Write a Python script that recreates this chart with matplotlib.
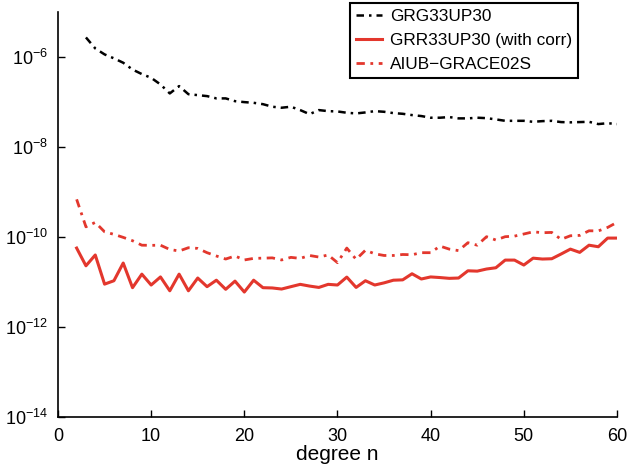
import numpy as np
import matplotlib
matplotlib.use("Agg")
import matplotlib.pyplot as plt
from matplotlib.ticker import FixedLocator, NullLocator, LogFormatterSciNotation

plt.rcParams['font.family'] = ['Liberation Sans', 'DejaVu Sans']
plt.rcParams['mathtext.fontset'] = 'custom'
plt.rcParams['mathtext.rm'] = 'Liberation Sans'
plt.rcParams['mathtext.it'] = 'Liberation Sans:italic'

# degree n
deg_grg = np.arange(3, 61)
deg = np.arange(2, 61)

grg33up30 = [2.74e-6, 1.56e-6, 1.15e-6, 9.4e-7, 7.5e-7, 5.3e-7, 4.2e-7, 3.47e-7,
             2.47e-7, 1.56e-7, 2.27e-7, 1.5e-7, 1.43e-7, 1.36e-7, 1.21e-7, 1.21e-7,
             1.05e-7, 1.0e-7, 9.65e-8, 9.0e-8, 7.9e-8, 7.5e-8, 7.9e-8, 6.65e-8,
             5.4e-8, 6.65e-8, 6.3e-8, 6.2e-8, 5.8e-8, 5.6e-8, 5.9e-8, 6.3e-8,
             6.1e-8, 5.7e-8, 5.5e-8, 5.15e-8, 4.9e-8, 4.5e-8, 4.5e-8, 4.65e-8,
             4.35e-8, 4.35e-8, 4.5e-8, 4.4e-8, 4.13e-8, 3.84e-8, 3.84e-8, 3.84e-8,
             3.65e-8, 3.78e-8, 3.84e-8, 3.6e-8, 3.55e-8, 3.6e-8, 3.65e-8, 3.25e-8,
             3.4e-8, 3.25e-8]

grr33up30 = [5.7e-11, 2.3e-11, 4.0e-11, 9.0e-12, 1.07e-11, 2.65e-11, 7.5e-12, 1.5e-11,
             8.6e-12, 1.3e-11, 6.4e-12, 1.5e-11, 6.4e-12, 1.23e-11, 7.9e-12, 1.1e-11,
             6.9e-12, 1.05e-11, 6.0e-12, 1.1e-11, 7.5e-12, 7.4e-12, 7.0e-12, 7.9e-12,
             8.9e-12, 8.15e-12, 7.6e-12, 8.9e-12, 8.6e-12, 1.29e-11, 7.6e-12, 1.07e-11,
             8.6e-12, 9.6e-12, 1.1e-11, 1.12e-11, 1.53e-11, 1.17e-11, 1.3e-11, 1.26e-11,
             1.21e-11, 1.23e-11, 1.78e-11, 1.75e-11, 1.95e-11, 2.08e-11, 3.08e-11, 3.08e-11,
             2.39e-11, 3.4e-11, 3.25e-11, 3.3e-11, 4.2e-11, 5.4e-11, 4.57e-11, 6.6e-11,
             6.1e-11, 9.5e-11, 9.5e-11]

aiub_grace02s = [6.9e-10, 1.69e-10, 2.12e-10, 1.31e-10, 1.15e-10, 9.85e-11, 8.3e-11, 6.6e-11,
                 6.55e-11, 6.6e-11, 5.3e-11, 4.9e-11, 5.8e-11, 5.6e-11, 4.5e-11, 3.8e-11,
                 3.25e-11, 3.8e-11, 3.1e-11, 3.36e-11, 3.4e-11, 3.45e-11, 3.1e-11, 3.54e-11,
                 3.36e-11, 3.9e-11, 3.6e-11, 4.0e-11, 2.7e-11, 5.7e-11, 3.2e-11, 5.1e-11,
                 4.25e-11, 3.9e-11, 3.9e-11, 4.1e-11, 4.05e-11, 4.5e-11, 4.5e-11, 6.3e-11,
                 5.4e-11, 5.0e-11, 7.5e-11, 6.6e-11, 1.02e-10, 8.6e-11, 1.02e-10, 1.05e-10,
                 1.17e-10, 1.31e-10, 1.25e-10, 1.27e-10, 8.9e-11, 1.07e-10, 1.09e-10, 1.38e-10,
                 1.37e-10, 1.64e-10, 2.12e-10]

red = '#e3372d'

fig = plt.figure(figsize=(6.27, 4.67), dpi=100)
ax = fig.add_axes([0.0925, 0.107, 0.8915, 0.867])

ax.semilogy(deg_grg, grg33up30, color='black', lw=1.8, ls=(0, (3, 2, 1, 2)), label='GRG33UP30')
ax.semilogy(deg, grr33up30, color=red, lw=2.2, ls='-', label='GRR33UP30 (with corr)')
ax.semilogy(deg, aiub_grace02s, color=red, lw=2.0, ls=(0, (3, 2, 1, 2)), label='AIUB\u2212GRACE02S')

ax.set_xlim(0, 60)
ax.set_ylim(1e-14, 1e-5)
ax.set_xticks([0, 10, 20, 30, 40, 50, 60])
ax.yaxis.set_major_locator(FixedLocator([1e-14, 1e-12, 1e-10, 1e-8, 1e-6]))
ax.yaxis.set_minor_locator(NullLocator())
ax.yaxis.set_major_formatter(LogFormatterSciNotation())
ax.tick_params(direction='in', length=5, width=1, labelsize=13, colors='black')
ax.tick_params(axis='x', pad=8)
ax.tick_params(axis='y', pad=7)
ax.spines['top'].set_visible(False)
ax.spines['right'].set_visible(False)
ax.spines['left'].set_linewidth(1.2)
ax.spines['bottom'].set_linewidth(1.2)
ax.set_xlabel('degree n', fontsize=15, labelpad=0)

leg = ax.legend(loc='upper left', bbox_to_anchor=(0.522, 1.022), fontsize=12.4,
                frameon=True, fancybox=False, edgecolor='black', framealpha=1,
                handlelength=1.5, handletextpad=0.5, borderpad=0.35,
                labelspacing=0.5, borderaxespad=0)
leg.get_frame().set_linewidth(1.5)

fig.savefig('out.png', dpi=100)
